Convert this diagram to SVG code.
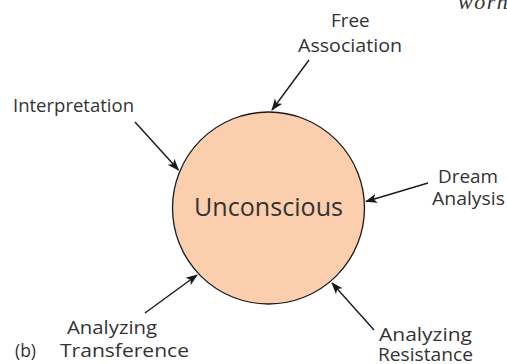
<svg xmlns="http://www.w3.org/2000/svg" width="507" height="364" viewBox="0 0 507 364">
<style>
.lbl{font-family:"Open Sans","Noto Sans",sans-serif;font-size:17.5px;fill:#333;}
.edge{stroke:#1a1a1a;stroke-width:1.4;fill:none;marker-end:url(#ah);}
</style>
<defs>
<marker id="ah" viewBox="0 0 12 10" refX="11" refY="5" markerWidth="12" markerHeight="10" markerUnits="userSpaceOnUse" orient="auto">
<path d="M0,0.5 L12,5 L0,9.5 L3,5 Z" fill="#1a1a1a"/>
</marker>
</defs>
<rect width="507" height="364" fill="#fff"/>
<text x="458" y="9" font-family="Liberation Serif,serif" font-style="italic" font-size="22" letter-spacing="1.5" fill="#333">worn</text>
<g id="unconscious">
<circle cx="268.5" cy="208" r="96" fill="#FBCFAE" stroke="#1a1a1a" stroke-width="1.3"/>
<text class="lbl" x="194" y="216" style="font-size:25px" textLength="149" lengthAdjust="spacingAndGlyphs">Unconscious</text>
</g>
<g id="connectors">
<line class="edge" x1="309" y1="60" x2="272" y2="110"/>
<line class="edge" x1="135" y1="122" x2="178.5" y2="170"/>
<line class="edge" x1="428" y1="183" x2="366" y2="201.5"/>
<line class="edge" x1="145" y1="313" x2="197" y2="275"/>
<line class="edge" x1="374" y1="330" x2="332" y2="283"/>
</g>
<g id="free-association">
<text class="lbl" x="331" y="27" textLength="38.5" lengthAdjust="spacingAndGlyphs">Free</text>
<text class="lbl" x="298" y="52" textLength="104" lengthAdjust="spacingAndGlyphs">Association</text>
</g>
<g id="interpretation">
<text class="lbl" x="13" y="112" textLength="121" lengthAdjust="spacingAndGlyphs">Interpretation</text>
</g>
<g id="dream-analysis">
<text class="lbl" x="438" y="183" textLength="60" lengthAdjust="spacingAndGlyphs">Dream</text>
<text class="lbl" x="432" y="205" textLength="73" lengthAdjust="spacingAndGlyphs">Analysis</text>
</g>
<g id="analyzing-transference">
<text class="lbl" x="67" y="334" textLength="90" lengthAdjust="spacingAndGlyphs">Analyzing</text>
<text class="lbl" x="15" y="357">(b)</text>
<text class="lbl" x="60" y="357" textLength="129" lengthAdjust="spacingAndGlyphs">Transference</text>
</g>
<g id="analyzing-resistance">
<text class="lbl" x="379" y="341" textLength="93" lengthAdjust="spacingAndGlyphs">Analyzing</text>
<text class="lbl" x="378" y="360.5" textLength="95" lengthAdjust="spacingAndGlyphs">Resistance</text>
</g>
</svg>
